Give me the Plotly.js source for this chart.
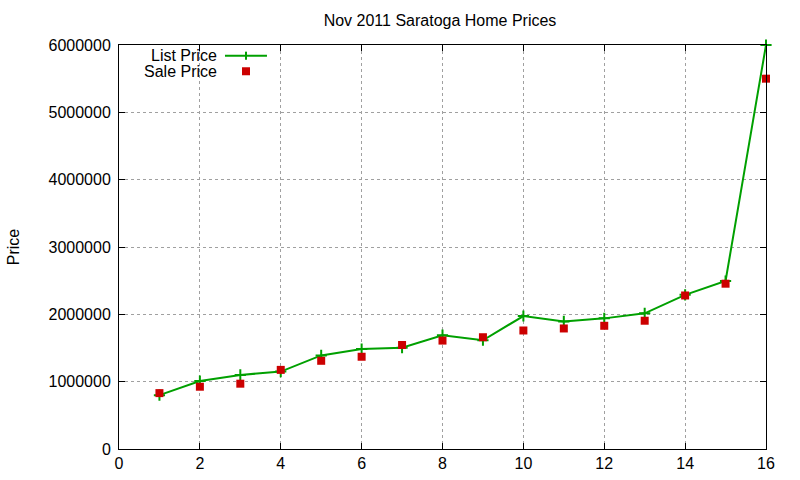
<!DOCTYPE html>
<html>
<head>
<meta charset="utf-8">
<script src="https://cdn.plot.ly/plotly-3.0.1.min.js"></script>
<style>
  html, body { margin: 0; padding: 0; background: #fff; }
  #chart { width: 800px; height: 480px; }
</style>
</head>
<body>
<div id="chart"></div>
<script>
// house index (1..16), sorted by list price
const homes = [1, 2, 3, 4, 5, 6, 7, 8, 9, 10, 11, 12, 13, 14, 15, 16];
const listPrice = [800000, 1010000, 1100000, 1150000, 1390000, 1485000, 1505000, 1690000,
  1615000, 1975000, 1895000, 1940000, 2015000, 2290000, 2495000, 6000000];
const salePrice = [830000, 925000, 970000, 1175000, 1310000, 1370000, 1545000, 1610000,
  1660000, 1760000, 1790000, 1830000, 1905000, 2280000, 2455000, 5500000];

const xTicks = [0, 2, 4, 6, 8, 10, 12, 14, 16];
const yTicks = [0, 1000000, 2000000, 3000000, 4000000, 5000000, 6000000];

const green = "#00a000";
const red = "#cc0000";
const font = "Liberation Sans, Arial, sans-serif";

const traces = [
  {
    x: homes,
    y: listPrice,
    name: "List Price",
    type: "scatter",
    mode: "lines+markers",
    cliponaxis: false,
    line: { color: green, width: 2 },
    marker: { symbol: "cross-thin-open", size: 8, color: green, line: { color: green, width: 2 } },
  },
  {
    x: homes,
    y: salePrice,
    name: "Sale Price",
    type: "scatter",
    mode: "markers",
    cliponaxis: false,
    marker: { symbol: "square", size: 8, color: red },
  },
];

const axisCommon = {
  showline: true,
  linecolor: "#000",
  linewidth: 1,
  mirror: "ticks",
  ticks: "inside",
  ticklen: 6,
  tickcolor: "#000",
  showgrid: true,
  gridcolor: "#a0a0a0",
  griddash: "dot",
  gridwidth: 1,
  zeroline: false,
  tickfont: { family: font, size: 16, color: "#000" },
};

// legend drawn gnuplot style: text on the left, key on the right
const keyY1 = 0.9735, keyY2 = 0.935;
const legendShapes = [
  { type: "line", xref: "paper", yref: "paper", x0: 0.1638, x1: 0.2287, y0: keyY1, y1: keyY1,
    line: { color: green, width: 2 } },
  { type: "line", xref: "paper", yref: "paper", x0: 0.1963, x1: 0.1963, y0: keyY1 - 0.01, y1: keyY1 + 0.01,
    line: { color: green, width: 2 } },
  { type: "rect", xref: "paper", yref: "paper", x0: 0.1901, x1: 0.2025, y0: keyY2 - 0.0099, y1: keyY2 + 0.0099,
    fillcolor: red, line: { width: 0 } },
];
const legendText = [
  { text: "List Price", y: keyY1 },
  { text: "Sale Price", y: keyY2 },
].map((t) => ({
  text: t.text, xref: "paper", yref: "paper", x: 0.155, y: t.y,
  xanchor: "right", yanchor: "middle", showarrow: false,
  font: { family: font, size: 16, color: "#000" },
}));

const layout = {
  width: 800,
  height: 480,
  margin: { l: 119, r: 34, t: 45, b: 31 },
  paper_bgcolor: "#fff",
  plot_bgcolor: "#fff",
  showlegend: false,
  font: { family: font, size: 16, color: "#000" },
  title: {
    text: "Nov 2011 Saratoga Home Prices",
    font: { family: font, size: 16, color: "#000" },
    x: 0.55, xanchor: "center",
    y: 1 - 20 / 480, yref: "container", yanchor: "middle",
  },
  xaxis: Object.assign({}, axisCommon, {
    range: [0, 16],
    tickvals: xTicks,
    ticktext: xTicks.map(String),
  }),
  yaxis: Object.assign({}, axisCommon, {
    range: [0, 6000000],
    tickvals: yTicks,
    ticktext: yTicks.map(String),
    ticklabelstandoff: 4,
    title: { text: "Price", font: { family: font, size: 16, color: "#000" }, standoff: 24 },
  }),
  shapes: legendShapes,
  annotations: legendText,
};

Plotly.newPlot("chart", traces, layout, { displayModeBar: false, staticPlot: true });
</script>
</body>
</html>
